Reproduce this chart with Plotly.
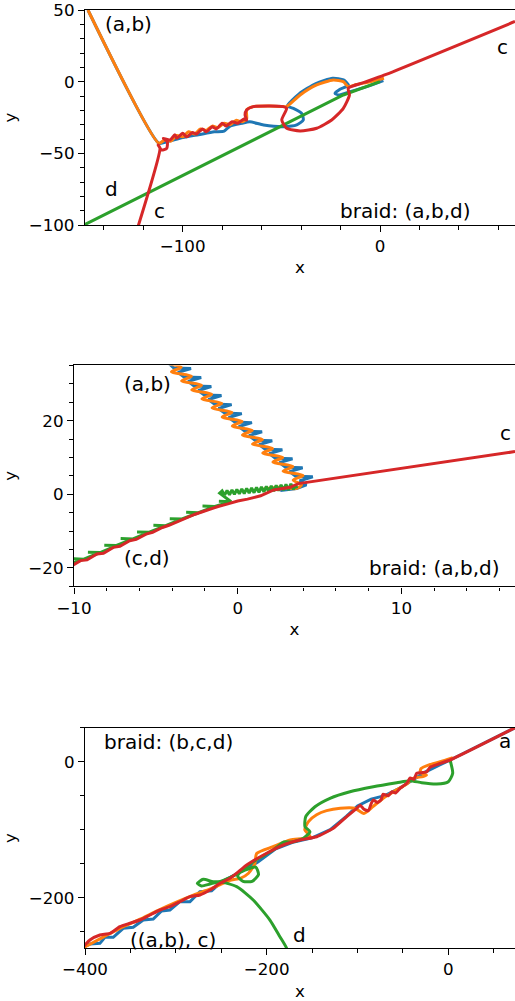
import plotly.graph_objects as go

BLUE = "#1f77b4"
ORANGE = "#ff7f0e"
GREEN = "#2ca02c"
RED = "#d62728"

# ---------------- panel 1 ----------------
p1_a_x = [-148, -112, -108, -100, -92, -84, -79, -76, -70, -66, -59, -49, -42.2, -38.9, -39.7, -43.9, -47,
          -41, -32.5, -24, -18.5, -16, -20.3, -22.8, -21.1, -15.2, -6.7, 1.7]
p1_a_y = [50, -43, -42, -39, -37, -35, -34.5, -31, -29, -28, -30.2, -31.4, -30.2, -26.7, -22.1, -18.6, -17,
          -8.5, -1.3, 2.3, 1.2, -2.5, -5.3, -8.1, -9.3, -7, -3.5, 0.7]
p1_b_x = [-148, -112, -109, -106, -103, -100, -97, -94, -91, -88, -85, -82, -79, -76, -73, -70, -67.6, -67.6,
          -64.2, -55.8, -49, -47.3, -40.5, -32.1, -23.7, -18.6, -16.1, -12, -5, 2]
p1_b_y = [50, -43, -40.5, -41.5, -37.5, -38.5, -35, -36.5, -33, -34, -31, -32, -29, -30, -27, -28, -26, -19.7,
          -17.4, -17, -17.4, -17.4, -9.3, -2.3, 1.2, 0, -3.5, -2, 0, 2.4]
p1_d_x = [-150, -94.7, -49, -18.6, 0]
p1_d_y = [-100, -61.6, -30.2, -9.3, 0]
p1_c_x = [-123.5, -111.5, -112.4, -110.7, -108.1, -107.8, -109.8, -106.4, -104, -103, -100, -98, -95, -93, -90,
          -88, -85, -83, -80, -78, -75, -72, -69, -67.6, -68.4, -67.6, -64.2, -55.8, -49, -47.3, -49.8, -47.3,
          -40.5, -32.1, -24.5, -18.6, -15.5, -16.1, -8, 2, 68.4]
p1_c_y = [-105, -46.5, -44.2, -47.7, -46.5, -41.9, -39.5, -40.7, -37, -39.5, -36, -38.5, -35.5, -36.5, -33,
          -35, -31.5, -33, -29, -31, -28, -29, -26, -26.7, -23.2, -19.7, -17.4, -17, -17.4, -18.6, -26.7, -32.5,
          -34.4, -32.5, -26.7, -18.6, -9.3, -4.6, -0.5, 4.5, 42]

# ---------------- panel 2 ----------------
p2_a_x = [-4.2, -3.90, -2.85, -3.65, -3.28, -2.23, -3.03, -2.66, -1.61, -2.41, -2.04, -0.99, -1.79, -1.42, -0.37,
          -1.17, -0.80, 0.25, -0.55, -0.18, 0.87, 0.07, 0.44, 1.49, 0.69, 1.06, 2.11, 1.31, 1.68, 2.73, 1.93, 2.30,
          3.35, 2.55, 2.92, 3.97, 3.17, 3.54, 4.59, 3.79, 4.2, 3.6, 2.6]
p2_a_y = [35.5, 34.30, 34.15, 33.10, 31.85, 31.70, 30.65, 29.40, 29.25, 28.20, 26.95, 26.80, 25.75, 24.50, 24.35,
          23.30, 22.05, 21.90, 20.85, 19.60, 19.45, 18.40, 17.15, 17.00, 15.95, 14.70, 14.55, 13.50, 12.25, 12.10,
          11.05, 9.80, 9.65, 8.60, 7.35, 7.20, 6.15, 4.90, 4.75, 3.70, 2.6, 1.6, 1.0]
p2_b_x = [-4.15, -3.45, -4.05, -2.83, -3.43, -2.21, -2.81, -1.59, -2.19, -0.97, -1.57, -0.35, -0.95, 0.27, -0.33,
          0.89, 0.29, 1.51, 0.91, 2.13, 1.53, 2.75, 2.15, 3.37, 2.77, 3.99, 3.39, 3.9, 3.6, 2.5, 1.5]
p2_b_y = [35.3, 34.50, 33.25, 32.05, 30.80, 29.60, 28.35, 27.15, 25.90, 24.70, 23.45, 22.25, 21.00, 19.80, 18.55,
          17.35, 16.10, 14.90, 13.65, 12.45, 11.20, 10.00, 8.75, 7.55, 6.30, 5.10, 3.85, 2.6, 1.6, 1.9, 1.3]
p2_d_x = [-10.5, -9.4, -10.15, -9.4, -8.4, -9.15, -8.4, -7.4, -8.15, -7.4, -6.4, -7.15, -6.4, -5.4, -6.15, -5.4,
          -4.4, -5.15, -4.4, -3.4, -4.15, -3.4, -2.4, -3.15, -2.4, -1.4, -2.15, -1.4, -0.4, -1.15, -0.4,
          -1.1, -0.95, -0.8, -0.65, -0.5, -0.35, -0.2, -0.05, 0.1, 0.25, 0.4, 0.55, 0.7, 0.85, 1.0, 1.15, 1.3,
          1.45, 1.6, 1.75, 1.9, 2.05, 2.2, 2.35, 2.5, 2.65, 2.8, 2.95, 3.1, 3.25, 3.4, 3.55, 3.6]
p2_d_y = [-19.3, -17.6, -17.5, -17.6, -15.8, -15.7, -15.8, -13.9, -13.8, -13.9, -12.1, -12.0, -12.1, -10.3, -10.2,
          -10.3, -8.5, -8.4, -8.5, -6.7, -6.6, -6.7, -5.0, -4.9, -5.0, -3.3, -3.2, -3.3, -2.0, -1.9, -2.0,
          0.3, 0.92, -0.23, 1.06, -0.12, 1.20, 0.0, 1.34, 0.11, 1.48, 0.22, 1.61, 0.33, 1.75, 0.44, 1.89, 0.55,
          2.03, 0.66, 2.17, 0.77, 2.30, 0.88, 2.44, 1.0, 2.58, 1.11, 2.72, 1.22, 2.86, 1.33, 2.6, 1.6]
p2_c_x = [-10.3, -9.6, -9.2, -8.6, -8.2, -7.6, -7.2, -6.6, -6.2, -5.6, -5.2, -4.6, -4.2, -3.6, -3.2, -2.6, -2.2,
          -1.6, -1.2, -0.6, 0.0, 0.6, 1.4, 2.2, 3.2, 3.7, 16.94]
p2_c_y = [-19.8, -18.0, -17.8, -16.2, -16.0, -14.4, -14.1, -12.6, -12.2, -10.8, -10.3, -9.0, -8.4, -7.2, -6.6,
          -5.4, -4.8, -3.8, -3.3, -2.6, -1.8, -1.3, -0.4, 1.2, 1.9, 2.9, 11.6]

# ---------------- panel 3 ----------------
p3_a_x = [-401, -394.6, -383.6, -378.1, -368.9, -357.9, -346.9, -335.9, -324.9, -315.7, -306.5, -295.5, -284.5,
          -273.5, -260.6, -250, -230, -210, -190, -170, -150, -130, -112, -100, -85, -70, -55, -40, -25, -10, 2, 75]
p3_a_y = [-272, -268.1, -267.1, -258.2, -258.2, -245, -243.5, -232.8, -231.3, -219.6, -218.1, -205.9, -205.9,
          -191.2, -189.7, -177, -163, -148, -128, -118, -112, -100, -80, -65, -55, -50, -40, -28, -15, -5, 2.5, 51]
p3_b_x = [-401, -380, -360, -340, -320, -300, -280, -262, -250, -239, -229, -220, -213, -211, -193, -174, -160,
          -152, -158, -154, -145, -134, -119, -103, -93, -83, -72, -60, -45, -38, -28, -24, -31, -30, -22, -9, 5]
p3_b_y = [-273, -258, -244, -232, -219, -207, -196, -187, -180, -174, -171.5, -164, -150, -135, -125, -115, -113,
          -110, -100, -88, -78, -72, -68.5, -68.5, -76, -66, -54, -44, -32, -24, -22, -19.6, -16, -10, -5, 0, 6]
p3_d_x = [1.9, 4.8, 0, -12.8, -29.3, -42.2, -56.8, -82.6, -108.3, -130.3, -146.8, -157, -157.8, -152.3, -160,
          -172, -181, -193, -210, -224, -232, -226, -216, -209, -212, -225, -240, -251, -259, -269.8, -276.4,
          -271.6, -262.4, -251.4, -233, -214.8, -196.4, -185.4, -178, -175]
p3_d_y = [2.5, -17.1, -29.4, -32.8, -30.9, -27.9, -30.9, -36.8, -44.1, -53.8, -66.2, -80.9, -95.6, -102.9, -113,
          -118, -118, -130, -143, -156, -168, -176, -176, -166, -155, -160, -170, -176, -176.5, -173, -178.8,
          -182.8, -179.9, -176.5, -183.8, -203.4, -232.8, -257.4, -274.4, -290]
p3_c_x = [-401, -394.6, -383.6, -372.6, -361.6, -350.5, -339.5, -328.5, -317.5, -306.5, -295.5, -284.5, -273.5,
          -262.4, -251.4, -240.4, -229.4, -222, -200, -181.7, -163.3, -144.9, -126.6, -111.9, -100.9, -97, -93, -88,
          -85, -82.6, -78, -74, -72, -66, -62, -58, -53.2, -50, -45.8, -42, -38, -34.8, -28, -23.8, -20, -10, 1.9, 75]
p3_c_y = [-271, -262.2, -254.9, -252.4, -242.6, -237.6, -232.8, -225.4, -218.1, -213.2, -205.9, -198.5, -196.0,
          -188.7, -178.8, -171.5, -160, -151.9, -134.7, -122.5, -115.1, -110.3, -97.9, -80.9, -68.5, -64, -70, -72,
          -62, -56.3, -60, -56, -48, -50, -44, -46, -39.1, -36, -31.8, -24, -26, -17.1, -16, -14.7, -8, -3, 2.5, 51]

# labels: (text, x, y, panel)
labels = [
    ("(a,b)", -127.7, 40.3, 1), ("d", -136.3, -75, 1), ("c", -111.5, -90.3, 1), ("c", 62.3, 24.2, 1),
    ("braid: (a,b,d)", 12.7, -90.4, 1),
    ("(a,b)", -5.53, 30.0, 2), ("(c,d)", -5.53, -17.3, 2), ("c", 16.35, 16.6, 2),
    ("braid: (a,b,d)", 12.0, -20.0, 2),
    ("braid: (b,c,d)", -308.6, 29, 3), ("a", 62.4, 30.4, 3), ("((a,b), c)", -302.9, -262.2, 3),
    ("d", -164.4, -254.8, 3),
]

fig = go.Figure()


def add(x, y, color, panel, shape="linear", smoothing=0.6):
    sfx = "" if panel == 1 else str(panel)
    fig.add_trace(go.Scatter(
        x=x, y=y, mode="lines",
        line=dict(color=color, width=3, shape=shape, smoothing=smoothing if shape == "spline" else None),
        xaxis="x" + sfx, yaxis="y" + sfx, showlegend=False, hoverinfo="skip"))


add(p1_a_x, p1_a_y, BLUE, 1, "spline")
add(p1_b_x, p1_b_y, ORANGE, 1, "spline")
add(p1_d_x, p1_d_y, GREEN, 1)
add(p1_c_x, p1_c_y, RED, 1, "spline")

add(p2_a_x, p2_a_y, BLUE, 2)
add(p2_b_x, p2_b_y, ORANGE, 2, "spline", 0.9)
add(p2_d_x, p2_d_y, GREEN, 2)
add(p2_c_x, p2_c_y, RED, 2)

add(p3_a_x, p3_a_y, BLUE, 3)
add(p3_b_x, p3_b_y, ORANGE, 3, "spline")
add(p3_d_x, p3_d_y, GREEN, 3, "spline")
add(p3_c_x, p3_c_y, RED, 3, "spline", 0.5)

FONT = dict(family="DejaVu Sans", size=16.7, color="black")
H = 1001.0
W = 515.0


def xax(left_px, rng, dtick, minor, anchor):
    return dict(domain=[left_px / W, 1.0], range=rng, anchor=anchor,
                tickmode="linear", tick0=0, dtick=dtick, ticks="outside", ticklen=6, tickwidth=1.3,
                tickcolor="black", showline=True, linecolor="black", linewidth=1.3, mirror=True,
                showgrid=False, zeroline=False, tickfont=FONT, automargin=False,
                ticklabeloverflow="allow",
                title=dict(text="x", font=FONT, standoff=6),
                minor=dict(tickmode="linear", tick0=0, dtick=minor, ticks="outside", ticklen=3.5,
                           tickwidth=1, tickcolor="black", showgrid=False))


def yax(top_px, bot_px, rng, dtick, minor, anchor):
    return dict(domain=[1 - bot_px / H, 1 - top_px / H], range=rng, anchor=anchor,
                tickmode="linear", tick0=0, dtick=dtick, ticks="outside", ticklen=6, tickwidth=1.3,
                tickcolor="black", showline=True, linecolor="black", linewidth=1.3, mirror=False,
                showgrid=False, zeroline=False, tickfont=FONT, automargin=False,
                ticklabeloverflow="allow",
                title=dict(text="y", font=FONT, standoff=8),
                minor=dict(tickmode="linear", tick0=0, dtick=minor, ticks="outside", ticklen=3.5,
                           tickwidth=1, tickcolor="black", showgrid=False))


annotations = []
for text, ax_, ay_, panel in labels:
    sfx = "" if panel == 1 else str(panel)
    annotations.append(dict(text=text, x=ax_, y=ay_, xref="x" + sfx, yref="y" + sfx, showarrow=False,
                            xanchor="center", yanchor="middle",
                            font=dict(family="DejaVu Sans", size=20, color="black")))

fig.update_layout(
    width=515, height=1001, margin=dict(l=0, r=0, t=0, b=0),
    paper_bgcolor="white", plot_bgcolor="white", showlegend=False,
    xaxis=xax(85, [-149.5, 68.4], 100, 20, "y"),
    yaxis=yax(9.9, 225, [-100, 50.07], 50, 10, "x"),
    xaxis2=xax(74, [-10, 16.94], 10, 2, "y2"),
    yaxis2=yax(365.4, 586.4, [-25, 35], 20, 5, "x2"),
    xaxis3=xax(85, [-400, 73.4], 200, 50, "y3"),
    yaxis3=yax(727.7, 948.3, [-274.4, 50], 200, 50, "x3"),
    annotations=annotations,
)

fig.write_html("out.html")
